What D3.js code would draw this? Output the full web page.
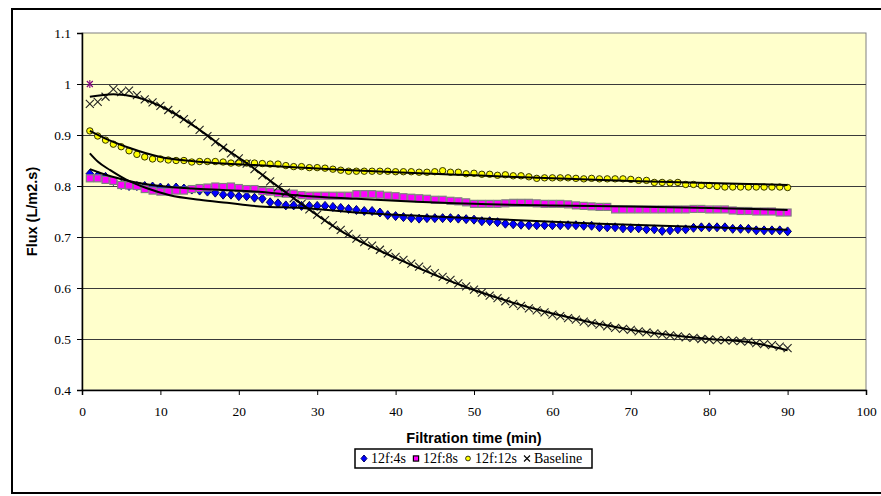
<!DOCTYPE html>
<html>
<head>
<meta charset="utf-8">
<script src="https://cdn.jsdelivr.net/npm/d3@7/dist/d3.min.js"></script>
<style>
html,body{margin:0;padding:0;background:#fff;}
svg{display:block;}
</style>
</head>
<body>
<svg id="chart" width="881" height="496"></svg>
<script>
// ---------- DATA ----------
const minutes = [1,2,3,4,5,6,7,8,9,10,11,12,13,14,15,16,17,18,19,20,21,22,23,24,25,26,27,28,29,30,
31,32,33,34,35,36,37,38,39,40,41,42,43,44,45,46,47,48,49,50,51,52,53,54,55,56,57,58,59,60,
61,62,63,64,65,66,67,68,69,70,71,72,73,74,75,76,77,78,79,80,81,82,83,84,85,86,87,88,89,90];

const flux4s = [0.824,0.820,0.818,0.810,0.802,0.800,0.800,0.800,0.799,0.797,0.796,0.797,0.795,0.793,0.791,0.789,0.787,0.783,0.783,0.780,
0.780,0.777,0.775,0.768,0.766,0.762,0.762,0.761,0.761,0.761,0.761,0.759,0.757,0.755,0.753,0.751,0.751,0.748,0.743,0.741,
0.739,0.737,0.736,0.737,0.737,0.737,0.737,0.736,0.735,0.734,0.731,0.731,0.729,0.726,0.725,0.724,0.723,0.723,0.723,0.723,
0.723,0.723,0.723,0.722,0.722,0.719,0.719,0.719,0.717,0.717,0.717,0.715,0.715,0.712,0.713,0.715,0.715,0.718,0.719,0.719,
0.719,0.719,0.716,0.716,0.716,0.713,0.713,0.713,0.713,0.711];

const flux8s = [0.815,0.815,0.812,0.810,0.802,0.801,0.800,0.794,0.791,0.789,0.789,0.791,0.791,0.794,0.796,0.797,0.799,0.798,0.799,0.796,
0.794,0.794,0.790,0.789,0.786,0.785,0.785,0.782,0.781,0.781,0.781,0.781,0.781,0.781,0.784,0.784,0.784,0.783,0.781,0.780,
0.778,0.777,0.776,0.775,0.773,0.773,0.771,0.770,0.768,0.765,0.765,0.765,0.765,0.766,0.767,0.767,0.767,0.766,0.765,0.765,
0.765,0.764,0.762,0.761,0.760,0.759,0.759,0.754,0.754,0.754,0.754,0.754,0.754,0.754,0.754,0.754,0.754,0.755,0.755,0.754,
0.754,0.754,0.752,0.751,0.751,0.750,0.750,0.750,0.748,0.748];

const flux12s = [0.908,0.898,0.890,0.882,0.877,0.869,0.862,0.857,0.853,0.853,0.851,0.850,0.850,0.847,0.848,0.848,0.848,0.847,0.845,0.845,
0.845,0.845,0.844,0.843,0.843,0.840,0.838,0.838,0.836,0.836,0.835,0.833,0.831,0.829,0.829,0.829,0.829,0.829,0.829,0.828,
0.828,0.828,0.827,0.827,0.828,0.830,0.827,0.827,0.824,0.825,0.823,0.823,0.821,0.822,0.820,0.820,0.818,0.815,0.816,0.816,
0.816,0.816,0.815,0.814,0.815,0.814,0.814,0.814,0.814,0.813,0.811,0.811,0.807,0.807,0.806,0.807,0.803,0.803,0.801,0.801,
0.799,0.798,0.798,0.798,0.798,0.798,0.798,0.798,0.798,0.797];

const fluxBaseline = [0.961,0.965,0.975,0.990,0.984,0.987,0.978,0.970,0.964,0.957,0.949,0.941,0.931,0.923,0.910,0.898,0.886,0.875,0.864,0.854,
0.844,0.833,0.821,0.809,0.798,0.787,0.776,0.765,0.754,0.744,0.733,0.723,0.714,0.706,0.697,0.690,0.683,0.675,0.668,0.661,
0.655,0.648,0.642,0.636,0.629,0.622,0.616,0.609,0.603,0.597,0.591,0.585,0.580,0.574,0.569,0.565,0.560,0.556,0.552,0.548,
0.545,0.541,0.538,0.534,0.531,0.528,0.525,0.522,0.520,0.518,0.515,0.513,0.511,0.509,0.507,0.505,0.503,0.502,0.500,0.499,
0.498,0.498,0.497,0.496,0.495,0.492,0.490,0.488,0.485,0.482];

// Trend lines (at sparse times)
const trend4sT = [1,2,3.6,5.7,8.2,11.2,15,18.5,22.7,28,36,45,53,66,76,90];
const trend4sV = [0.864,0.848,0.831,0.812,0.796,0.782,0.773,0.767,0.760,0.757,0.747,0.740,0.735,0.726,0.721,0.714];
const trend8sT = [1,3,6,10,14,18,22,28,35,40,50,60,70,80,90];
const trend8sV = [0.833,0.822,0.810,0.800,0.795,0.792,0.789,0.781,0.775,0.771,0.765,0.762,0.760,0.757,0.753];
const trend12sT = [1,3,6,10,14,18,22,27,33,40,50,60,70,80,90];
const trend12sV = [0.908,0.893,0.875,0.857,0.849,0.844,0.841,0.837,0.832,0.827,0.821,0.815,0.810,0.806,0.802];
const trendBaseT = [1,4,7,11,15,18.5,21,24.4,27.8,33,40,50,60,70,80,85,90];
const trendBaseV = [0.975,0.980,0.974,0.949,0.910,0.871,0.845,0.806,0.767,0.712,0.659,0.596,0.550,0.518,0.500,0.494,0.478];

// single extra point (purple asterisk)
const extraT = [1];
const extraV = [1.0];

const seriesNames = ["12f:4s","12f:8s","12f:12s","Baseline"];
const xTicks = [0,10,20,30,40,50,60,70,80,90,100];
const yTicks = [0.4,0.5,0.6,0.7,0.8,0.9,1.0,1.1];
const yTickLabels = ["0.4","0.5","0.6","0.7","0.8","0.9","1","1.1"];
const xTitle = "Filtration time (min)";
const yTitle = "Flux (L/m2.s)";

// ---------- DRAW ----------
const svg = d3.select("#chart");
const L = 82, R = 866, T = 33, B = 390;
const x = d3.scaleLinear().domain([0,100]).range([L,R]);
const y = d3.scaleLinear().domain([0.4,1.1]).range([B,T]);

// outer chart border
svg.append("rect").attr("x",12).attr("y",9).attr("width",890).attr("height",484)
  .attr("fill","#fff").attr("stroke","#000").attr("stroke-width",2);

// plot area
svg.append("rect").attr("x",L).attr("y",T).attr("width",R-L).attr("height",B-T)
  .attr("fill","#FFFFCC").attr("stroke","#808080").attr("stroke-width",1);

// gridlines
svg.append("g").selectAll("line").data(yTicks.filter(v=>v>0.41 && v<1.09)).join("line")
  .attr("x1",L).attr("x2",R)
  .attr("y1",d=>Math.round(y(d))+0.5).attr("y2",d=>Math.round(y(d))+0.5)
  .attr("stroke","#3a3a3a").attr("stroke-width",1);

// axes
const fmt = d3.scaleOrdinal().domain(yTicks).range(yTickLabels);
const xAxis = svg.append("g").attr("transform",`translate(0,${B})`)
  .call(d3.axisBottom(x).tickValues(xTicks).tickSize(5).tickPadding(11).tickFormat(d=>String(d)));
const yAxis = svg.append("g").attr("transform",`translate(${L},0)`)
  .call(d3.axisLeft(y).tickValues(yTicks).tickSize(5).tickPadding(6).tickFormat(d=>fmt(d)));
[xAxis,yAxis].forEach(g=>{
  g.select(".domain").attr("stroke","#000").attr("stroke-width",1.5);
  g.selectAll(".tick line").attr("stroke","#000");
  g.selectAll("text").attr("font-family","'Liberation Serif','Times New Roman',serif")
    .attr("font-size","13.5px").attr("fill","#000");
});

// axis titles
svg.append("text").attr("x",(L+R)/2).attr("y",443).attr("text-anchor","middle")
  .attr("font-family","'Liberation Sans',Arial,sans-serif").attr("font-weight","bold")
  .attr("font-size","14.5px").text(xTitle);
svg.append("text").attr("transform",`translate(37,${(T+B)/2}) rotate(-90)`)
  .attr("text-anchor","middle")
  .attr("font-family","'Liberation Sans',Arial,sans-serif").attr("font-weight","bold")
  .attr("font-size","14.5px").text(yTitle);

// marker symbols
function diamond(g, cx, cy, s, w){
  g.append("path").attr("d",`M${cx},${cy-s}L${cx+w},${cy}L${cx},${cy+s}L${cx-w},${cy}Z`)
   .attr("fill","#0000FF").attr("stroke","#000066").attr("stroke-width",1);
}
function square(g, cx, cy, s, sc){
  g.append("rect").attr("x",cx-s).attr("y",cy-s).attr("width",2*s).attr("height",2*s)
   .attr("fill","#FF00FF").attr("stroke",sc||"#808080").attr("stroke-width",1.2);
}
function circle(g, cx, cy, r){
  g.append("circle").attr("cx",cx).attr("cy",cy).attr("r",r)
   .attr("fill","#FFFF00").attr("stroke","#333300").attr("stroke-width",1);
}
function cross(g, cx, cy, s, col){
  g.append("path").attr("d",`M${cx-s},${cy-s}L${cx+s},${cy+s}M${cx-s},${cy+s}L${cx+s},${cy-s}`)
   .attr("stroke",col||"#222").attr("stroke-width",1.1).attr("fill","none");
}

const pts = svg.append("g");
minutes.forEach((t,i)=>diamond(pts, x(t), y(flux4s[i]), 4.5, 3.8));
minutes.forEach((t,i)=>square(pts, x(t), y(flux8s[i]), 3.5));
minutes.forEach((t,i)=>circle(pts, x(t), y(flux12s[i]), 3.2));
minutes.forEach((t,i)=>cross(pts, x(t), y(fluxBaseline[i]), 4));

// trend lines
const line = d3.line().x(d=>x(d[0])).y(d=>y(d[1])).curve(d3.curveMonotoneX);
[[trend4sT,trend4sV],[trend8sT,trend8sV],[trend12sT,trend12sV],[trendBaseT,trendBaseV]].forEach(([ts,vs])=>{
  svg.append("path").datum(ts.map((t,i)=>[t,vs[i]])).attr("d",line)
    .attr("fill","none").attr("stroke","#000").attr("stroke-width",2);
});

// purple asterisk
extraT.forEach((t,i)=>{
  const cx = x(t), cy = y(extraV[i]);
  cross(svg, cx, cy, 3, "#800080");
  svg.append("path").attr("d",`M${cx},${cy-4}L${cx},${cy+4}`).attr("stroke","#800080").attr("stroke-width",1.1);
});

// legend
const lg = svg.append("g");
const boxX = 355, boxW = 237;
lg.append("rect").attr("x",boxX).attr("y",449).attr("width",boxW).attr("height",19)
  .attr("fill","#fff").attr("stroke","#000").attr("stroke-width",1.5);
const ly = 458.5;
const legendFont = "'Liberation Serif','Times New Roman',serif";
const syms = ["d","s","c","x"];
let cur = boxX + 9;
seriesNames.forEach((name,i)=>{
  const sym = syms[i];
  if(sym==="d") diamond(lg, cur, ly, 3.5, 3);
  if(sym==="s") square(lg, cur, ly, 2.6, "#000");
  if(sym==="c") lg.append("circle").attr("cx",cur).attr("cy",ly).attr("r",2.4)
      .attr("fill","#FFFF00").attr("stroke","#000").attr("stroke-width",0.8);
  if(sym==="x") cross(lg, cur, ly, 3, "#000");
  const txt = lg.append("text").attr("x",cur+7).attr("y",ly).attr("dy","0.35em")
    .attr("font-family",legendFont).attr("font-size","14px").text(name);
  cur = cur + 7 + txt.node().getComputedTextLength() + 10;
});
</script>
</body>
</html>
